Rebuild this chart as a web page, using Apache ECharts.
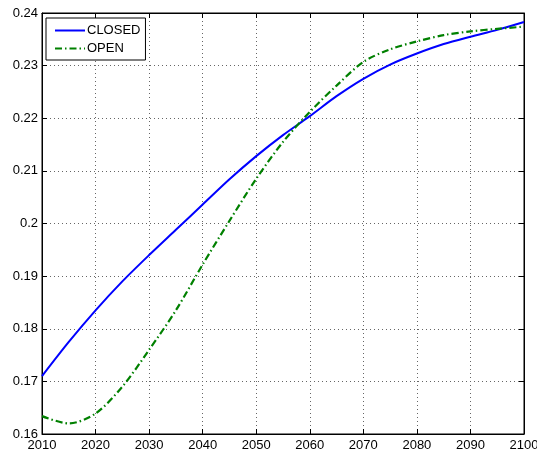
<!DOCTYPE html>
<html>
<head>
<meta charset="utf-8">
<script src="https://cdn.jsdelivr.net/npm/echarts@6/dist/echarts.min.js"></script>
<style>
  html, body { margin: 0; padding: 0; background: #fff; }
  #chart { width: 537px; height: 458px; }
</style>
</head>
<body>
<div id="chart"></div>
<script>
const years = [2010, 2015, 2020, 2025, 2030, 2035, 2040, 2045, 2050, 2055,
  2060, 2065, 2070, 2075, 2080, 2085, 2090, 2095, 2100]
const closedValues = [0.1710, 0.1775, 0.1835, 0.1890, 0.1940, 0.1988, 0.2036, 0.2084, 0.2128, 0.2168,
  0.2204, 0.2242, 0.2275, 0.2302, 0.2323, 0.2341, 0.2355, 0.2368, 0.2383]
const openValues = [0.1634, 0.1620, 0.1639, 0.1690, 0.1760, 0.1835, 0.1922, 0.2005, 0.2085, 0.2155,
  0.2212, 0.2262, 0.2307, 0.2331, 0.2346, 0.2358, 0.2365, 0.2370, 0.2374]
const yTickLabels = { 0.16: '0.16', 0.17: '0.17', 0.18: '0.18', 0.19: '0.19', 0.2: '0.2',
  0.21: '0.21', 0.22: '0.22', 0.23: '0.23', 0.24: '0.24' }

const font = 'Liberation Sans, Arial, sans-serif'
const tick = { show: true, inside: true, length: 5, lineStyle: { color: '#000' } }
const grid = { type: [1, 3], color: '#666', width: 1 }

const chart = echarts.init(document.getElementById('chart'))
chart.setOption({
  animation: false,
  grid: {
    left: 42, right: 13, top: 13, bottom: 24,
    outerBoundsMode: 'none', containLabel: false,
    show: true, borderColor: '#000', borderWidth: 1
  },
  legend: {
    orient: 'vertical',
    left: 46,
    top: 18,
    backgroundColor: '#fff',
    borderColor: '#000',
    borderWidth: 1,
    borderRadius: 0,
    padding: [6, 5, 5, 8],
    itemGap: 5,
    itemWidth: 30,
    itemHeight: 10,
    itemStyle: { opacity: 0 },
    textStyle: { fontFamily: font, fontSize: 13, color: '#000', padding: [0, 0, 0, -3] },
    data: ['CLOSED', 'OPEN']
  },
  xAxis: [
    {
      type: 'value', min: 2010, max: 2100, interval: 10,
      axisLine: { lineStyle: { color: '#000' } },
      axisTick: tick,
      axisLabel: { color: '#000', fontFamily: font, fontSize: 13, margin: 5, formatter: (v) => String(v) },
      splitLine: { show: true, lineStyle: grid }
    },
    {
      type: 'value', position: 'top', min: 2010, max: 2100, interval: 10,
      axisLine: { lineStyle: { color: '#000' } },
      axisTick: tick, axisLabel: { show: false }, splitLine: { show: false }
    }
  ],
  yAxis: [
    {
      type: 'value', min: 0.16, max: 0.24, interval: 0.01,
      axisLine: { show: true, lineStyle: { color: '#000' } },
      axisTick: tick,
      axisLabel: {
        color: '#000', fontFamily: font, fontSize: 13, margin: 4,
        formatter: (v) => yTickLabels[Math.round(v * 100) / 100] || ''
      },
      splitLine: { show: true, lineStyle: grid }
    },
    {
      type: 'value', position: 'right', min: 0.16, max: 0.24, interval: 0.01,
      axisLine: { show: true, lineStyle: { color: '#000' } },
      axisTick: tick, axisLabel: { show: false }, splitLine: { show: false }
    }
  ],
  series: [
    {
      name: 'CLOSED', type: 'line', smooth: 0.3, symbol: 'none',
      color: '#0000ff',
      lineStyle: { color: '#0000ff', width: 2 },
      data: years.map((y, i) => [y, closedValues[i]])
    },
    {
      name: 'OPEN', type: 'line', smooth: 0.3, symbol: 'none',
      color: '#008000',
      lineStyle: { color: '#008000', width: 2.2, type: [7, 3, 1.5, 3] },
      data: years.map((y, i) => [y, openValues[i]])
    }
  ]
})
</script>
</body>
</html>
